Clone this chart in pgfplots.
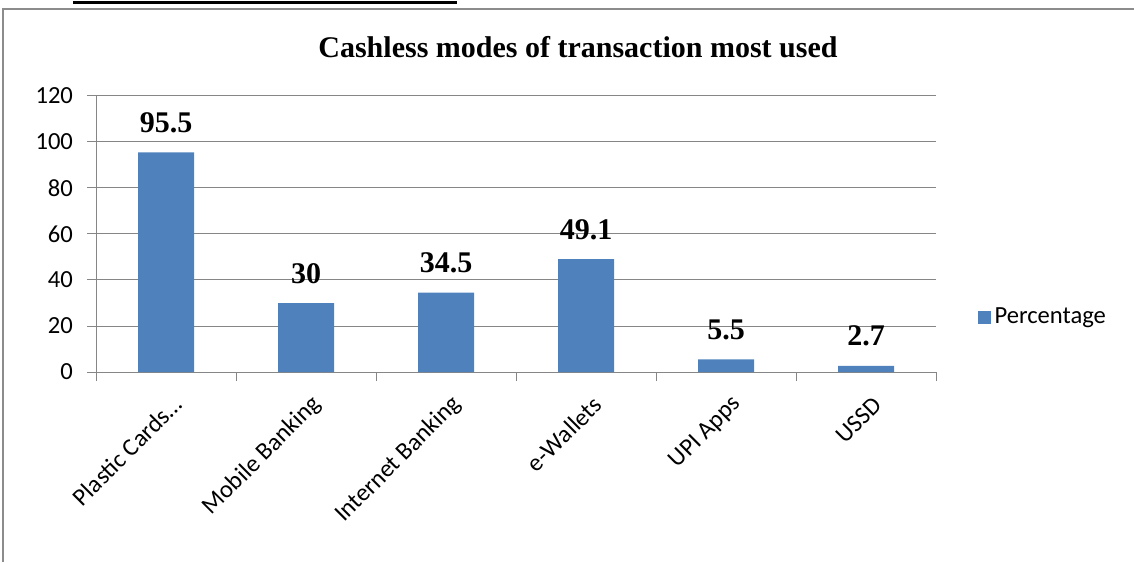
\documentclass[border=0pt]{standalone}
\usepackage{pgfplots}
\pgfplotsset{compat=1.18}
\usepackage{fontspec}
\setmainfont{Carlito}
\newfontfamily\tnr{Liberation Serif}
\definecolor{barblue}{HTML}{4F81BD}
\definecolor{gridgray}{HTML}{868686}
\definecolor{framegray}{HTML}{8C8C8C}
\begin{document}
\begin{tikzpicture}[x=1pt,y=1pt]
\useasboundingbox (0,0) rectangle (567,281);
\draw[framegray, line width=1pt] (1.5,0) -- (1.5,276.25) -- (567,276.25);
\draw[black, line width=1.2pt] (36.5,279.8) -- (228.5,279.8);
\node[font=\tnr\bfseries\fontsize{15}{17}\selectfont] at (289,257.5) {Cashless modes of transaction most used};
\begin{axis}[
  at={(48pt,95pt)}, anchor=south west,
  scale only axis, width=420pt, height=138pt,
  xmin=-0.5, xmax=5.5, ymin=0, ymax=120,
  ytick={0,20,...,120},
  xtick={0,...,5},
  xticklabels={Plastic Cards…, Mobile Banking, Internet Banking, e-Wallets, UPI Apps, USSD},
  minor xtick={-0.5,0.5,...,5.5},
  major tick length=4.5pt, minor tick length=4.5pt,
  tick align=outside,
  major x tick style={draw=none},
  tick style={gridgray, line width=0.5pt},
  ymajorgrids,
  major grid style={gridgray, line width=0.5pt},
  axis x line*=bottom, axis y line*=left,
  axis line style={gridgray, line width=0.5pt},
  /pgf/number format/assume math mode=true,
  yticklabel style={font=\fontsize{12.3}{13}\selectfont, xshift=-3.5pt},
  xticklabel style={font=\fontsize{12.3}{13}\selectfont, rotate=45, anchor=east, xshift=0.5pt, yshift=-11pt},
  ybar, bar width=28pt,
  nodes near coords,
  every node near coord/.append style={font=\tnr\bfseries\fontsize{15}{15}\selectfont, inner sep=0pt, yshift=9.5pt, black},
  legend style={at={(1.049,0.199)}, anchor=west, draw=none, fill=none, inner sep=0pt, font=\fontsize{12.3}{13}\selectfont},
  legend image code/.code={\fill[barblue] (0pt,-3.25pt) rectangle (6.5pt,3.25pt);},
]
\addplot[fill=barblue, draw=none] coordinates {(0,95.5) (1,30) (2,34.5) (3,49.1) (4,5.5) (5,2.7)};
\addlegendentry{Percentage}
\end{axis}
\end{tikzpicture}
\end{document}
